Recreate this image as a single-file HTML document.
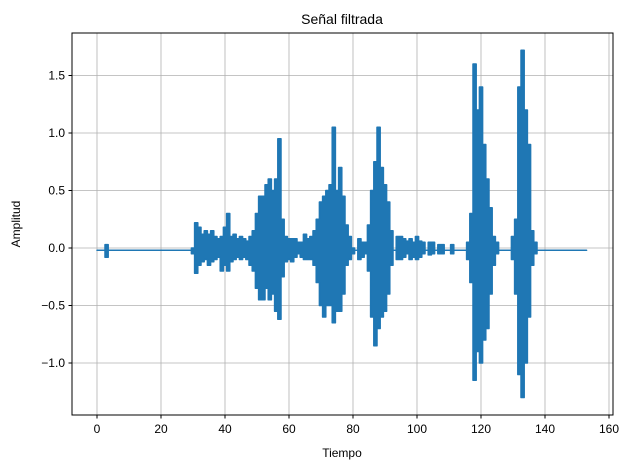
<!DOCTYPE html>
<html><head><meta charset="utf-8"><style>
body{margin:0;background:#fff;font-family:"Liberation Sans","DejaVu Sans",sans-serif}
</style></head><body>
<svg id="chart" width="629" height="470" xmlns="http://www.w3.org/2000/svg">
<rect width="629" height="470" fill="#fff"/>
<g id="grid"></g>
<g id="series"></g>
<rect x="72" y="33" width="541" height="382" fill="none" stroke="#000" stroke-width="1"/>
<g id="ticks" font-size="12" fill="#000"></g>
<text x="342" y="24" text-anchor="middle" font-size="14">Señal filtrada</text>
<text x="342" y="457" text-anchor="middle" font-size="12">Tiempo</text>
<text transform="translate(20,224) rotate(-90)" text-anchor="middle" font-size="12">Amplitud</text>
</svg>
<script>
const xTicks=[0,20,40,60,80,100,120,140,160];
const yTicks=[-1.0,-0.5,0.0,0.5,1.0,1.5];
const hi=[-0.02,-0.02,-0.02,0.03,-0.02,-0.02,-0.02,-0.02,-0.02,-0.02,
-0.02,-0.02,-0.02,-0.02,-0.02,-0.02,-0.02,-0.02,-0.02,-0.02,
-0.02,-0.02,-0.02,-0.02,-0.02,-0.02,-0.02,-0.02,-0.02,-0.02,
0.0,0.22,0.18,0.12,0.15,0.12,0.15,0.1,0.08,0.1,
0.18,0.3,0.1,0.12,0.08,0.1,0.08,0.06,0.1,0.15,
0.3,0.45,0.45,0.55,0.6,0.5,0.6,0.95,0.25,0.1,
0.08,0.08,0.08,0.05,0.05,0.12,0.08,0.1,0.15,0.25,
0.4,0.45,0.5,0.55,1.05,0.5,0.7,0.45,0.2,0.1,
0.0,-0.02,0.08,0.05,0.05,0.2,0.5,0.75,1.05,0.7,
0.55,0.4,0.15,-0.02,0.1,0.1,0.08,0.06,0.08,0.05,
0.1,0.06,0.05,-0.02,0.05,0.05,-0.02,0.03,0.03,-0.02,
-0.02,0.03,-0.02,-0.02,-0.02,-0.02,0.05,0.3,1.6,1.2,
1.4,0.9,0.6,0.35,0.1,0.05,-0.02,-0.02,-0.02,-0.02,
0.1,0.25,1.4,1.72,1.2,0.9,0.15,0.05,-0.02,-0.02,
-0.02,-0.02,-0.02,-0.02,-0.02,-0.02,-0.02,-0.02,-0.02,-0.02,
-0.02,-0.02,-0.02,-0.02];
const lo=[-0.02,-0.02,-0.02,-0.08,-0.02,-0.02,-0.02,-0.02,-0.02,-0.02,
-0.02,-0.02,-0.02,-0.02,-0.02,-0.02,-0.02,-0.02,-0.02,-0.02,
-0.02,-0.02,-0.02,-0.02,-0.02,-0.02,-0.02,-0.02,-0.02,-0.02,
-0.05,-0.22,-0.15,-0.12,-0.1,-0.15,-0.12,-0.1,-0.08,-0.2,
-0.15,-0.2,-0.12,-0.1,-0.08,-0.1,-0.08,-0.1,-0.15,-0.2,
-0.35,-0.45,-0.45,-0.35,-0.45,-0.4,-0.55,-0.62,-0.25,-0.12,
-0.1,-0.12,-0.08,-0.05,-0.08,-0.1,-0.1,-0.1,-0.15,-0.3,
-0.5,-0.6,-0.5,-0.5,-0.65,-0.55,-0.55,-0.4,-0.15,-0.1,
-0.05,-0.02,-0.1,-0.08,-0.05,-0.2,-0.6,-0.85,-0.7,-0.6,
-0.55,-0.4,-0.15,-0.02,-0.1,-0.1,-0.08,-0.05,-0.1,-0.08,
-0.1,-0.08,-0.05,-0.02,-0.06,-0.05,-0.02,-0.05,-0.05,-0.02,
-0.02,-0.05,-0.02,-0.02,-0.02,-0.02,-0.1,-0.3,-1.15,-0.9,
-1.0,-0.8,-0.7,-0.4,-0.15,-0.05,-0.02,-0.02,-0.02,-0.02,
-0.1,-0.4,-1.1,-1.3,-1.0,-0.6,-0.15,-0.05,-0.02,-0.02,
-0.02,-0.02,-0.02,-0.02,-0.02,-0.02,-0.02,-0.02,-0.02,-0.02,
-0.02,-0.02,-0.02,-0.02];
const NS="http://www.w3.org/2000/svg";
const X=v=>97+v*3.2;
const Y=v=>248-v*115;
const grid=document.getElementById('grid'),ticks=document.getElementById('ticks'),ser=document.getElementById('series');
function mk(tag,attrs,parent){const e=document.createElementNS(NS,tag);for(const k in attrs)e.setAttribute(k,attrs[k]);parent.appendChild(e);return e;}
xTicks.forEach(t=>{
 const g=mk('line',{x1:X(t),x2:X(t),y1:33,y2:415,stroke:'#b0b0b0','stroke-width':0.8},grid);
 
 
 mk('line',{x1:X(t),x2:X(t),y1:415,y2:418.5,stroke:'#000'},ticks);
 const l=mk('text',{x:X(t),y:433,'text-anchor':'middle'},ticks);l.textContent=t;
 
 
});
yTicks.forEach(t=>{
 const g=mk('line',{x1:72,x2:613,y1:Y(t),y2:Y(t),stroke:'#b0b0b0','stroke-width':0.8},grid);
 
 
 mk('line',{x1:68.5,x2:72,y1:Y(t),y2:Y(t),stroke:'#000'},ticks);
 const l=mk('text',{x:65,y:Y(t)+4,'text-anchor':'end'},ticks);l.textContent=(t<0?'\u2212'+(-t).toFixed(1):t.toFixed(1));
 
 
});
const pts=[];
const n=hi.length;
hi.forEach((h,i)=>{
 const a=Math.max(0,i-0.5),b=Math.min(n-1,i+0.5);
 pts.push(X(a).toFixed(1)+','+Y(h).toFixed(1));
 pts.push(X(b).toFixed(1)+','+Y(h).toFixed(1));
});
for(let i=n-1;i>=0;i--){
 const a=Math.max(0,i-0.5),b=Math.min(n-1,i+0.5);
 pts.push(X(b).toFixed(1)+','+Y(lo[i]).toFixed(1));
 pts.push(X(a).toFixed(1)+','+Y(lo[i]).toFixed(1));
}
const poly=mk('polygon',{points:pts.join(' '),fill:'#1f77b4',stroke:'#1f77b4','stroke-width':1.5,'stroke-linejoin':'round'},ser);


</script>
</body></html>
